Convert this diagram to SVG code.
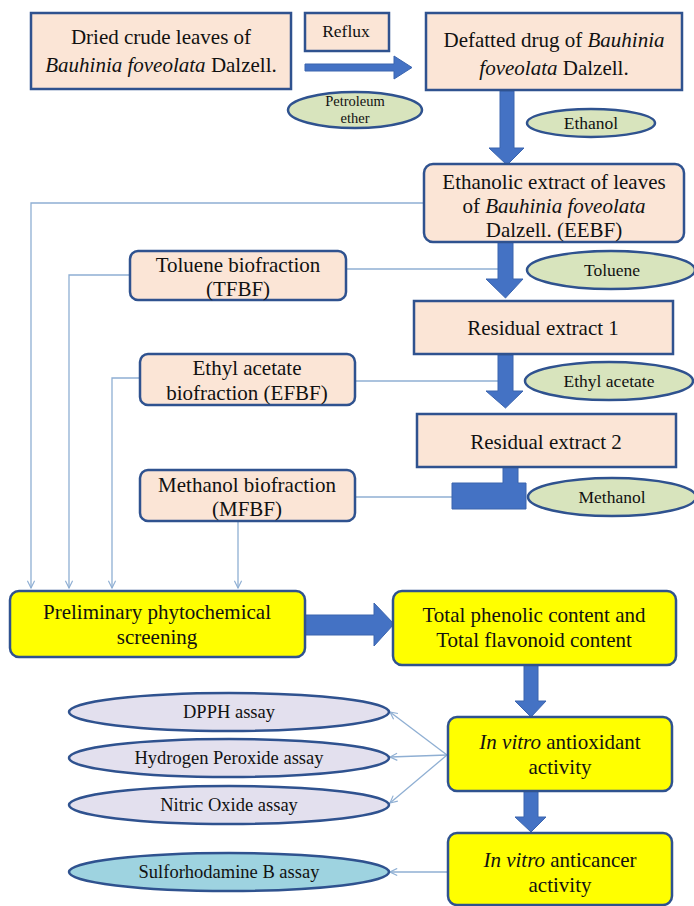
<svg xmlns="http://www.w3.org/2000/svg" width="694" height="906" viewBox="0 0 694 906" font-family="'Liberation Serif','Times New Roman',serif">
<defs>
<style>
.box{fill:#FBE5D6;stroke:#2F528F;stroke-width:2.5}
.yb{fill:#FFFF00;stroke:#2F528F;stroke-width:2.5}
.ell{fill:#D8E4BD;stroke:#2F528F;stroke-width:2.5}
.lav{fill:#E3E0EE;stroke:#2F528F;stroke-width:2.5}
.teal{fill:#9ED3E0;stroke:#2F528F;stroke-width:2.5}
.blk{fill:#4472C4;stroke:#3A64AE;stroke-width:1}
.ln{fill:none;stroke:#8FAFD3;stroke-width:1.3}
text{font-family:'Liberation Serif','Times New Roman',serif;fill:#111;text-anchor:middle}
.t18{font-size:21px}
.t14{font-size:17.5px}
.t12{font-size:14.5px}
.t16{font-size:18.5px}
</style>
<marker id="ah" viewBox="0 0 10 10" refX="9" refY="5" markerWidth="9" markerHeight="9" orient="auto" markerUnits="userSpaceOnUse">
<path d="M1,1 L9,5 L1,9" fill="none" stroke="#8FAFD3" stroke-width="1.3"/>
</marker>
</defs>
<rect width="694" height="906" fill="#FFFFFF"/>

<g id="connectors">
<path class="ln" d="M424,203 H31 V588" marker-end="url(#ah)"/>
<path class="ln" d="M498,269 H346"/>
<path class="ln" d="M130,275 H69 V588" marker-end="url(#ah)"/>
<path class="ln" d="M498,381 H355"/>
<path class="ln" d="M140,378 H112 V588" marker-end="url(#ah)"/>
<path class="ln" d="M453,497 H355"/>
<path class="ln" d="M238,521 V588" marker-end="url(#ah)"/>
<path class="ln" d="M447,755 L390,712" marker-end="url(#ah)"/>
<path class="ln" d="M447,755 L390,757" marker-end="url(#ah)"/>
<path class="ln" d="M447,755 L390,803" marker-end="url(#ah)"/>
<path class="ln" d="M447,872 L390,872" marker-end="url(#ah)"/>
<path class="blk" d="M305,64 H394 V56 L412,67.5 L394,79 V71 H305 Z"/>
<path class="blk" d="M500,91 H514 V148 H524 L507,165 L489,148 H500 Z"/>
<path class="blk" d="M498,242 H513 V279 H523 L505.5,298 L486,279 H498 Z"/>
<path class="blk" d="M498,355 H513 V391 H523 L505.5,408 L486,391 H498 Z"/>
<path class="blk" d="M503,467 H518 V483 H526 V509 H452 V483 H503 Z"/>
<path class="blk" d="M305,615 H374 V603 L394,624 L374,646 V635 H305 Z"/>
<path class="blk" d="M524,665 H538 V701 H546 L531,717 L515,701 H524 Z"/>
<path class="blk" d="M524,791 H538 V817 H546 L531,832 L515,817 H524 Z"/>
</g>

<g id="n-dried">
<rect class="box" x="31" y="13" width="260" height="76"/>
<text class="t18" x="161" y="44">Dried crude leaves of</text>
<text class="t18" x="161" y="72"><tspan font-style="italic">Bauhinia foveolata</tspan> Dalzell.</text>
</g>
<g id="n-reflux">
<rect class="box" x="305" y="13" width="84" height="38"/>
<text class="t14" x="346" y="37">Reflux</text>
</g>
<g id="n-petroleum">
<ellipse class="ell" cx="355" cy="110" rx="67" ry="18"/>
<text class="t12" x="355" y="106">Petroleum</text>
<text class="t12" x="355" y="123">ether</text>
</g>
<g id="n-defatted">
<rect class="box" x="426" y="13" width="256" height="77"/>
<text class="t18" x="554" y="47">Defatted  drug of <tspan font-style="italic">Bauhinia</tspan></text>
<text class="t18" x="554" y="75"><tspan font-style="italic">foveolata</tspan> Dalzell.</text>
</g>
<g id="n-ethanol">
<ellipse class="ell" cx="591" cy="123" rx="64" ry="14"/>
<text class="t14" x="591" y="129">Ethanol</text>
</g>
<g id="n-eebf">
<rect class="box" x="424" y="164" width="260" height="78" rx="9"/>
<text class="t18" x="554" y="189">Ethanolic extract of leaves</text>
<text class="t18" x="554" y="213">of <tspan font-style="italic">Bauhinia foveolata</tspan></text>
<text class="t18" x="554" y="237">Dalzell. (EEBF)</text>
</g>
<g id="n-tfbf">
<rect class="box" x="130" y="251" width="216" height="49" rx="8"/>
<text class="t18" x="238" y="272">Toluene  biofraction</text>
<text class="t18" x="238" y="296">(TFBF)</text>
</g>
<g id="n-toluene">
<ellipse class="ell" cx="611" cy="270" rx="84" ry="19"/>
<text class="t14" x="612" y="276">Toluene</text>
</g>
<g id="n-res1">
<rect class="box" x="414" y="301" width="259" height="53"/>
<text class="t18" x="543" y="335">Residual extract  1</text>
</g>
<g id="n-efbf">
<rect class="box" x="140" y="354" width="215" height="51" rx="8"/>
<text class="t18" x="247" y="375">Ethyl acetate</text>
<text class="t18" x="247" y="400">biofraction (EFBF)</text>
</g>
<g id="n-ethyl">
<ellipse class="ell" cx="609" cy="381" rx="84" ry="19"/>
<text class="t14" x="609" y="387">Ethyl acetate</text>
</g>
<g id="n-res2">
<rect class="box" x="417" y="414" width="259" height="53"/>
<text class="t18" x="546" y="449">Residual extract  2</text>
</g>
<g id="n-mfbf">
<rect class="box" x="140" y="470" width="215" height="51" rx="8"/>
<text class="t18" x="247" y="492">Methanol biofraction</text>
<text class="t18" x="247" y="516">(MFBF)</text>
</g>
<g id="n-methanol">
<ellipse class="ell" cx="612" cy="497" rx="84" ry="19"/>
<text class="t14" x="612" y="503">Methanol</text>
</g>
<g id="n-prelim">
<rect class="yb" x="10" y="591" width="295" height="66" rx="9"/>
<text class="t18" x="157" y="619">Preliminary  phytochemical</text>
<text class="t18" x="157" y="644">screening</text>
</g>
<g id="n-total">
<rect class="yb" x="393" y="591" width="283" height="74" rx="9"/>
<text class="t18" x="534" y="622">Total phenolic  content  and</text>
<text class="t18" x="534" y="647">Total flavonoid content</text>
</g>
<g id="n-antiox">
<rect class="yb" x="448" y="717" width="224" height="74" rx="9"/>
<text class="t18" x="560" y="749"><tspan font-style="italic">In vitro</tspan> antioxidant</text>
<text class="t18" x="560" y="774">activity</text>
</g>
<g id="n-anticancer">
<rect class="yb" x="448" y="833" width="224" height="72" rx="9"/>
<text class="t18" x="560" y="867"><tspan font-style="italic">In vitro</tspan> anticancer</text>
<text class="t18" x="560" y="892">activity</text>
</g>
<g id="n-dpph">
<ellipse class="lav" cx="229" cy="712" rx="160" ry="19"/>
<text class="t16" x="229" y="718">DPPH assay</text>
</g>
<g id="n-h2o2">
<ellipse class="lav" cx="229" cy="758" rx="160" ry="19"/>
<text class="t16" x="229" y="764">Hydrogen Peroxide assay</text>
</g>
<g id="n-no">
<ellipse class="lav" cx="229" cy="805" rx="160" ry="19"/>
<text class="t16" x="229" y="811">Nitric  Oxide assay</text>
</g>
<g id="n-srb">
<ellipse class="teal" cx="229" cy="872" rx="160" ry="19"/>
<text class="t16" x="229" y="878">Sulforhodamine B assay</text>
</g>
</svg>
